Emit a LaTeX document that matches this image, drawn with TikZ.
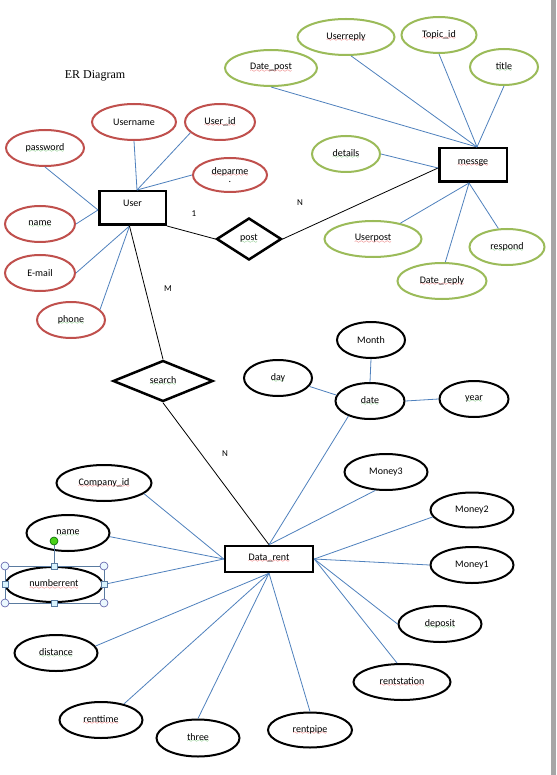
\documentclass[tikz,border=0pt]{standalone}
\usepackage{fontspec}
\setmainfont{Carlito}
\newfontfamily\titlefont{Liberation Serif}
\usetikzlibrary{shapes.geometric}
\definecolor{ered}{HTML}{C0504D}
\definecolor{egreen}{HTML}{9BBB59}
\definecolor{eblue}{HTML}{4F81BD}
\definecolor{sqred}{HTML}{E02020}
\definecolor{sqgreen}{HTML}{2EA02E}
\definecolor{hdl}{HTML}{5A7BA0}
\font\wavefont=lasy6
\newcommand\sqline[2]{\leavevmode\setbox0\hbox{#2}\rlap{\lower2.5pt\hbox to\wd0{\color{#1}\xleaders\hbox{\wavefont\char58}\hfill}}\box0}
\newcommand\rw[1]{\sqline{sqred}{#1}}
\newcommand\gw[1]{\sqline{sqgreen}{#1}}
\tikzset{
  attr/.style={ellipse, draw, line width=2pt, fill=white, inner sep=0pt},
  redattr/.style={attr, draw=ered},
  grnattr/.style={attr, draw=egreen},
  blkattr/.style={attr, draw=black},
  entity/.style={rectangle, draw=black, line width=2.5pt, fill=white, inner sep=0pt},
  rel/.style={diamond, draw=black, line width=2.5pt, fill=white, inner sep=0pt},
  conn/.style={draw=eblue, line width=0.8pt},
  rline/.style={draw=black, line width=0.8pt},
  card/.style={font=\fontsize{9}{10}\selectfont}
}
\begin{document}
\begin{tikzpicture}[x=1pt,y=-1pt,font=\fontsize{10}{12}\selectfont]
\useasboundingbox (0,0) rectangle (556,775);
\fill[white] (0,0) rectangle (556,775);
\fill[gray!70] (551,0) rectangle (556,775);

\node[font=\titlefont\fontsize{12}{14}\selectfont] (ertitle) at (95,76) {ER Diagram};

% User entity and attributes
\node[entity,minimum width=66.5,minimum height=33.5,text depth=10pt] (User) at (132.5,208) {User};
\node[redattr,minimum width=84,minimum height=36] (Username) at (134,122) {Username};
\node[redattr,minimum width=70,minimum height=36] (Userid) at (220,122) {\rw{User\_id}};
\node[redattr,minimum width=78,minimum height=36] (password) at (45,148) {\gw{password}};
\node[redattr,minimum width=74,minimum height=34,align=center] (deparme) at (230,175) {\rw{deparme}\\[-4pt].};
\node[redattr,minimum width=70,minimum height=36] (name) at (40,224) {\gw{name}};
\node[redattr,minimum width=70,minimum height=36] (Email) at (40,273) {E-mail};
\node[redattr,minimum width=68,minimum height=36] (phone) at (71,320) {\gw{phone}};

% post relationship and messge entity
\node[rel,minimum width=65,minimum height=42] (post) at (249,239) {\gw{post}};
\node[entity,minimum width=67.5,minimum height=33.5,text depth=6pt] (messge) at (473,165) {\rw{messge}};
\node[grnattr,minimum width=92,minimum height=36] (Datepost) at (271,68) {\rw{Date\_post}};
\node[grnattr,minimum width=97,minimum height=36] (Userreply) at (346,37) {\rw{Userreply}};
\node[grnattr,minimum width=75,minimum height=36] (Topicid) at (439,35) {\rw{Topic\_id}};
\node[grnattr,minimum width=68,minimum height=36] (title) at (504,67) {\gw{title}};
\node[grnattr,minimum width=68,minimum height=36] (details) at (346,154) {\gw{details}};
\node[grnattr,minimum width=97,minimum height=36] (Userpost) at (373,239) {\rw{Userpost}};
\node[grnattr,minimum width=75,minimum height=36] (respond) at (507,247) {\gw{respond}};
\node[grnattr,minimum width=89,minimum height=36] (Datereply) at (442,281) {\rw{Date\_reply}};

% search relationship and Data_rent entity
\node[rel,minimum width=100,minimum height=41] (search) at (163,381) {\gw{search}};
\node[entity,minimum width=88,minimum height=26,text depth=4pt] (Datarent) at (269,559) {\rw{Data\_rent}};
\node[blkattr,minimum width=95,minimum height=36] (Companyid) at (104,483) {\rw{Company\_id}};
\node[blkattr,minimum width=83,minimum height=36] (name2) at (68,533) {\gw{name}};
\node[blkattr,minimum width=97,minimum height=35] (numberrent) at (54,584.5) {\rw{numberrent}};
\node[blkattr,minimum width=83,minimum height=36] (distance) at (56,653) {\gw{distance}};
\node[blkattr,minimum width=83,minimum height=36] (renttime) at (101,720) {\rw{renttime}};
\node[blkattr,minimum width=83,minimum height=37] (three) at (198,738) {\gw{three}};
\node[blkattr,minimum width=84,minimum height=35] (rentpipe) at (310,730) {\rw{rentpipe}};
\node[blkattr,minimum width=97,minimum height=36] (rentstation) at (402,682) {\rw{rentstation}};
\node[blkattr,minimum width=83,minimum height=36] (deposit) at (440,624) {\gw{deposit}};
\node[blkattr,minimum width=83,minimum height=36] (Money1) at (472,565) {Money1};
\node[blkattr,minimum width=83,minimum height=35] (Money2) at (472,510) {Money2};
\node[blkattr,minimum width=83,minimum height=36] (Money3) at (386,472) {Money3};
\node[blkattr,minimum width=69,minimum height=36] (date) at (370,401) {\gw{date}};
\node[blkattr,minimum width=68,minimum height=36] (Month) at (371,340) {Month};
\node[blkattr,minimum width=68,minimum height=36] (day) at (278,378) {\gw{day}};
\node[blkattr,minimum width=69,minimum height=36] (year) at (474,399) {\gw{year}};

% cardinality labels
\node[card] (c1) at (194,214) {1};
\node[card] (cN1) at (300,203) {N};
\node[card] (cM) at (168,289) {M};
\node[card] (cN2) at (225,454) {N};

% User connectors
\draw[conn] (Username.south) -- ([xshift=4.5pt]User.north);
\draw[conn] (Userid.200) -- ([xshift=4.5pt]User.north);
\draw[conn] (deparme.west) -- ([xshift=4.5pt]User.north);
\draw[conn] (password.south) -- ([yshift=-2pt]User.west);
\draw[conn] (name.east) -- ([yshift=-2pt]User.west);
\draw[conn] (Email.east) -- ([xshift=-3pt]User.south);
\draw[conn] (phone.20) -- ([xshift=-3pt]User.south);
\draw[rline] ([xshift=-3pt]User.south) -- (search.north);
\draw[rline] (User.south east) -- (post.west);
\draw[rline] (post.east) -- ([yshift=-3pt]messge.west);

% messge connectors
\draw[conn] (Datepost.south) -- ([xshift=4pt]messge.north);
\draw[conn] (Userreply.-75) -- ([xshift=4pt]messge.north);
\draw[conn] (Topicid.south) -- ([xshift=4pt]messge.north);
\draw[conn] (title.south) -- ([xshift=4pt]messge.north);
\draw[conn] (details.east) -- ([yshift=-3pt]messge.west);
\draw[conn] (Userpost.30) -- ([xshift=-4pt]messge.south);
\draw[conn] (Datereply.80) -- ([xshift=-4pt]messge.south);
\draw[conn] (respond.115) -- ([xshift=-4pt]messge.south);

% Data_rent connectors
\draw[rline] (search.south) -- (Datarent.north);
\draw[conn] (date.215) -- (Datarent.north);
\draw[conn] (Money3.240) -- (Datarent.north);
\draw[conn] (Money2.190) -- (Datarent.east);
\draw[conn] (Money1.west) -- (Datarent.east);
\draw[conn] (deposit.west) -- (Datarent.east);
\draw[conn] ([xshift=-5pt]rentstation.north) -- (Datarent.east);
\draw[conn] (rentpipe.north) -- (Datarent.south);
\draw[conn] (three.north) -- (Datarent.south);
\draw[conn] (renttime.35) -- (Datarent.south);
\draw[conn] (distance.10) -- (Datarent.south);
\draw[conn] (Companyid.-15) -- (Datarent.west);
\draw[conn] (name2.-5) -- (Datarent.west);
\draw[conn] (numberrent.east) -- (Datarent.west);
\draw[conn] (day.-15) -- (date.170);
\draw[conn] (Month.south) -- (date.north);
\draw[conn] (date.east) -- (year.west);

% selection handles around numberrent
\draw[hdl,line width=0.7pt] (5,566) rectangle (104,603);
\draw[hdl,line width=0.7pt] (54,545) -- (54,563);
\foreach \p in {(5,566),(104,566),(5,603),(104,603)}
  \filldraw[fill=cyan!8!white,draw=gray!70!blue,line width=0.6pt] \p circle (4);
\foreach \p in {(54,566),(54,603),(5,584.5),(104,584.5)}
  \filldraw[fill=cyan!15!white,draw=hdl,line width=0.6pt] \p ++(-3.2,-3.2) rectangle ++(6.4,6.4);
\filldraw[fill=green!65!lime!80!black!90,draw=green!40!black,line width=0.6pt] (54,541) circle (4);
\end{tikzpicture}
\end{document}
